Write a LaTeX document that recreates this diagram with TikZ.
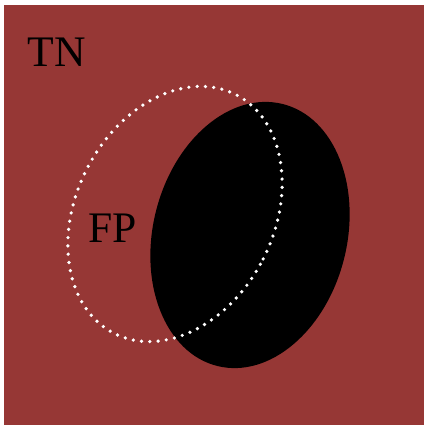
\documentclass[tikz,border=0pt]{standalone}
\usepackage{fontspec}
\setmainfont{Liberation Serif}
\definecolor{bgred}{RGB}{150,55,53}
\begin{document}
\begin{tikzpicture}[x=0.025cm,y=0.025cm,
    lbl/.style={anchor=base,inner sep=0pt,font=\fontsize{31}{32}\selectfont},
    dotline/.style={white,line width=2.6pt,line cap=round,dash pattern=on 0pt off 5.9pt}]
  \useasboundingbox (0,0) rectangle (424,428);
  \fill[bgred] (4,3) rectangle (424,423);
  % actual positives
  \fill[black,rotate around={-14:(250,193)}] (250,193) ellipse [x radius=97,y radius=135];
  % predicted positives
  \draw[dotline,rotate around={-27:(175,214)}] (175,214) ellipse [x radius=99,y radius=134];
  \node[lbl] (tn) at (57,361) {TN};
  \node[lbl] (fp) at (113,185) {FP};
\end{tikzpicture}
\end{document}
